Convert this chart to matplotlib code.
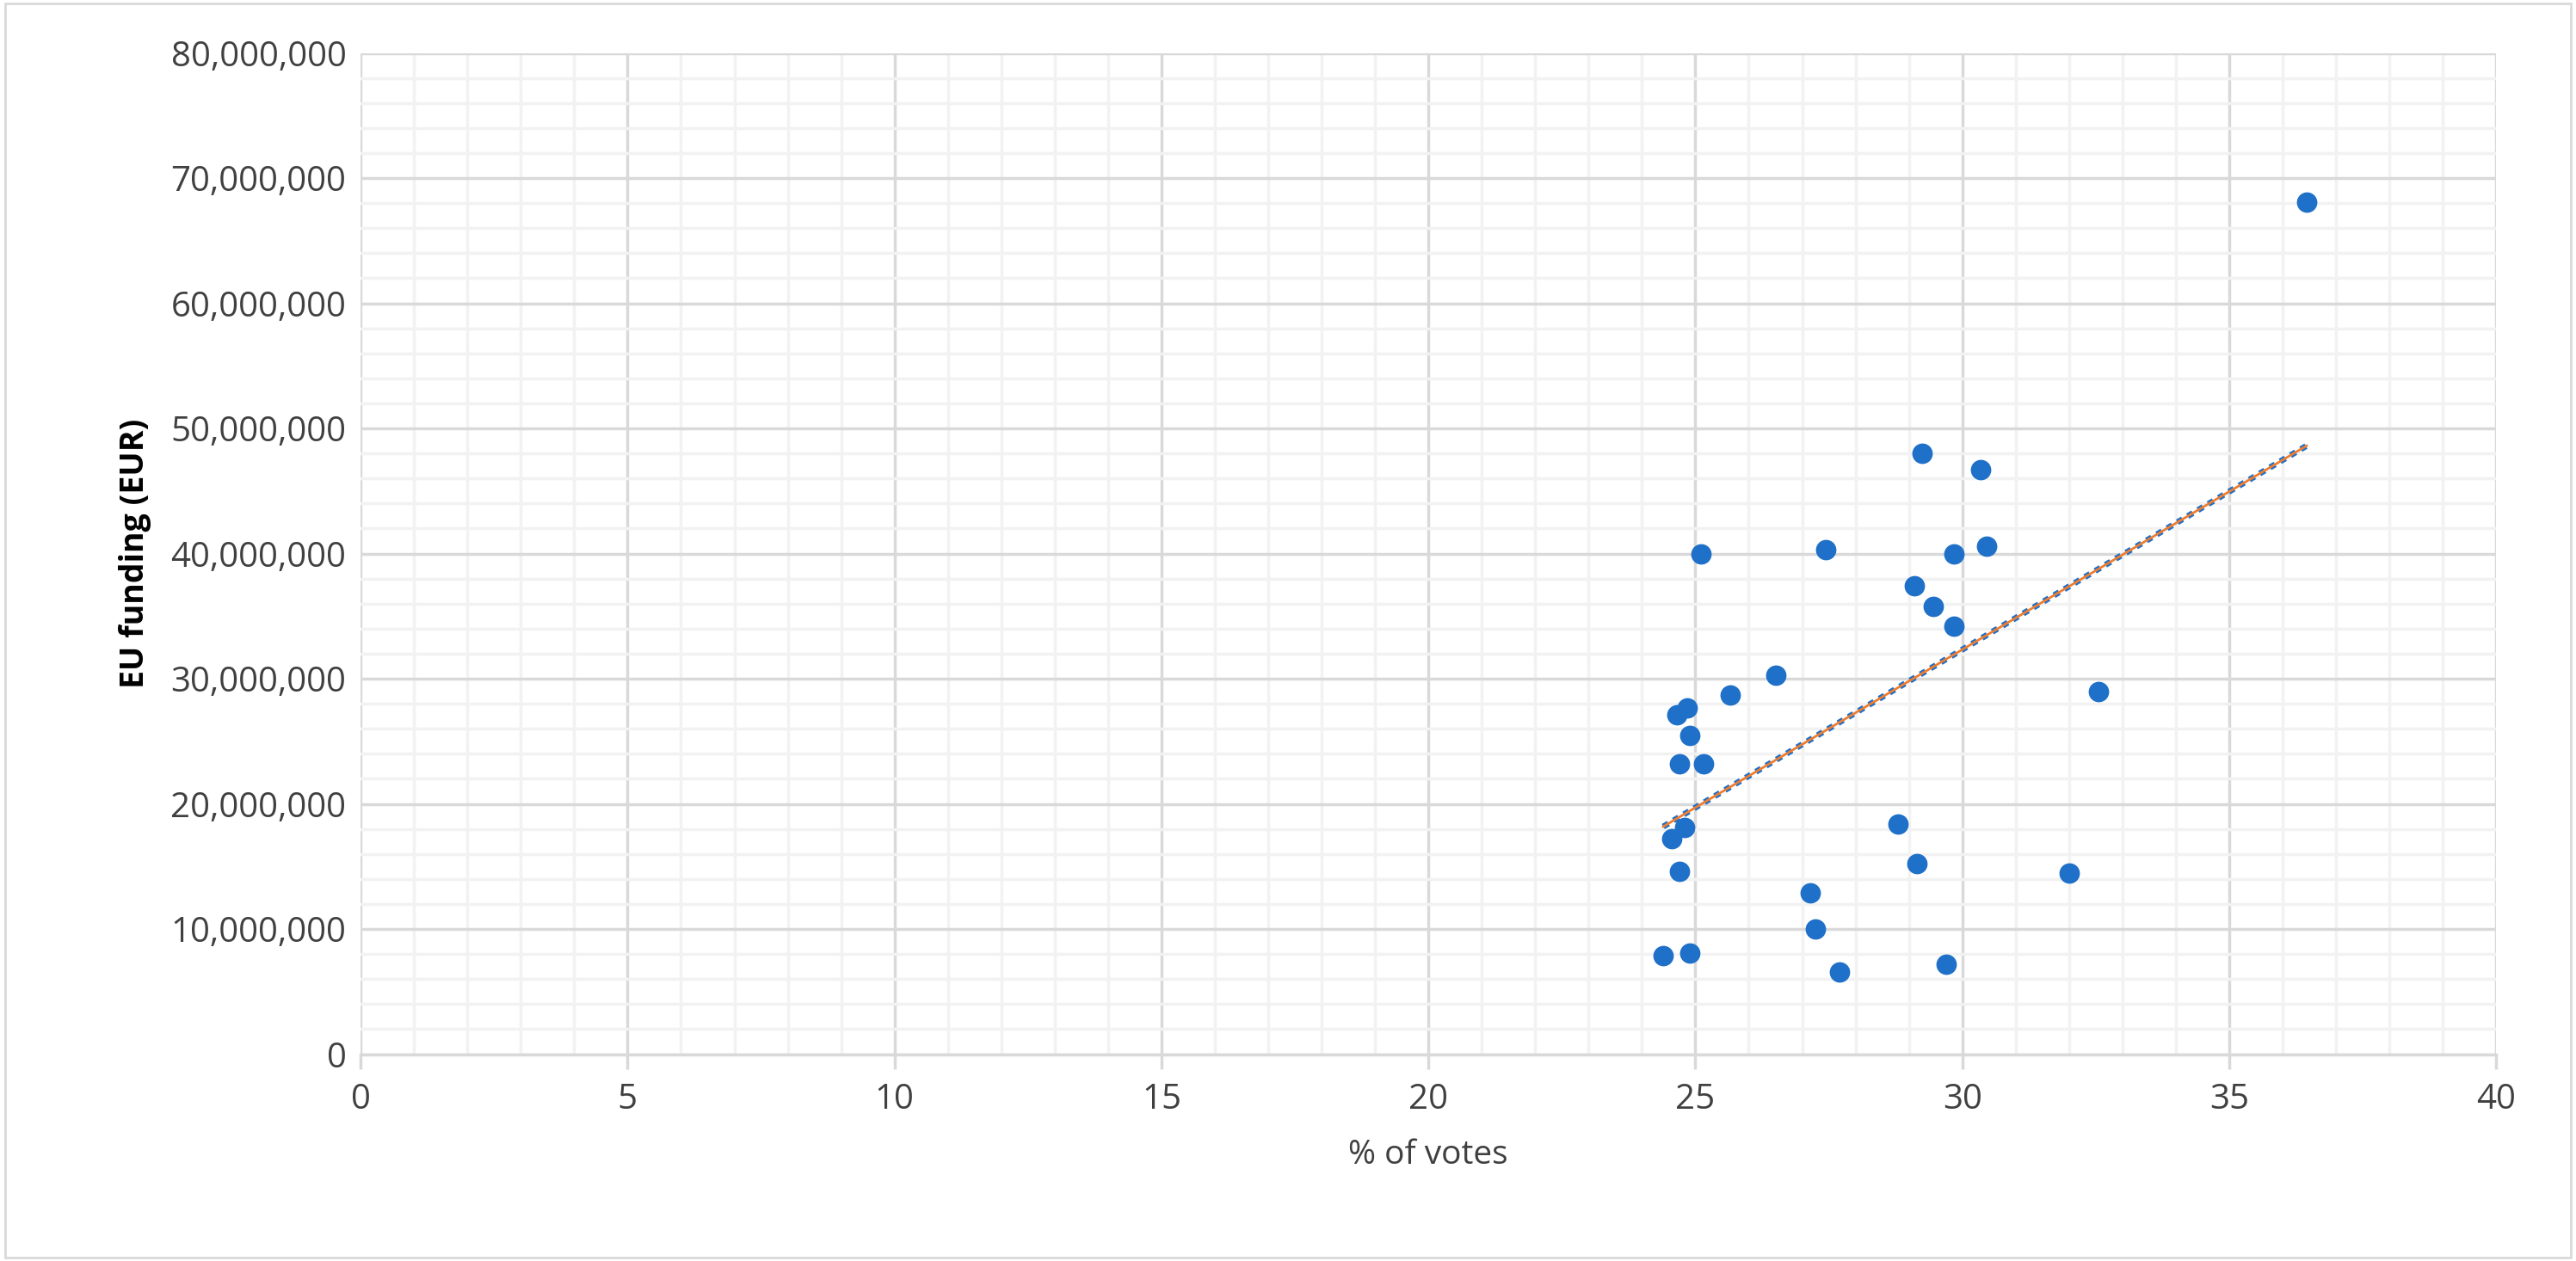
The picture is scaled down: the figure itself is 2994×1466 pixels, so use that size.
import matplotlib
matplotlib.use("Agg")
import matplotlib.pyplot as plt
import numpy as np
from matplotlib.ticker import FuncFormatter, MultipleLocator
from matplotlib.patches import Rectangle

votes = [36.45, 29.25, 30.35, 25.1, 27.45, 29.85, 30.45, 29.1, 29.45, 29.85, 26.5, 25.65,
         24.85, 24.65, 24.9, 24.7, 25.15, 32.55, 24.8, 24.55, 24.7, 28.8, 29.15, 32.0,
         27.15, 27.25, 27.7, 29.7, 24.4, 24.9]
funding = [68.1, 48.0, 46.7, 40.0, 40.3, 40.0, 40.6, 37.4, 35.8, 34.2, 30.3, 28.7,
           27.7, 27.1, 25.5, 23.2, 23.2, 29.0, 18.1, 17.2, 14.6, 18.4, 15.2, 14.5,
           12.9, 10.0, 6.6, 7.2, 7.9, 8.1]
funding = [v * 1e6 for v in funding]

plt.rcParams['font.family'] = ['Open Sans', 'DejaVu Sans']
fig = plt.figure(figsize=(29.94, 14.66), dpi=100)
ax = fig.add_axes([0.140, 0.164, 0.829, 0.794])
fig.add_artist(Rectangle((0.002, 0.003), 0.996, 0.994, transform=fig.transFigure,
                         fill=False, edgecolor='#d9d9d9', lw=2))

ax.set_xlim(0, 40)
ax.set_ylim(0, 80e6)
ax.xaxis.set_major_locator(MultipleLocator(5))
ax.xaxis.set_minor_locator(MultipleLocator(1))
ax.yaxis.set_major_locator(MultipleLocator(10e6))
ax.yaxis.set_minor_locator(MultipleLocator(2e6))
ax.yaxis.set_major_formatter(FuncFormatter(lambda v, p: f"{int(v):,}"))
ax.grid(which='major', color='#d9d9d9', lw=2.5)
ax.grid(which='minor', color='#f2f2f2', lw=2.5)
ax.set_axisbelow(True)
for s in ['top', 'right', 'left']:
    ax.spines[s].set_visible(False)
ax.spines['bottom'].set_color('#d9d9d9')
ax.spines['bottom'].set_linewidth(2.5)
ax.tick_params(which='both', length=0, labelsize=29, colors='#404040', pad=12)
ax.tick_params(axis='x', which='major', length=12, color='#d9d9d9', width=2.5)

ax.scatter(votes, funding, s=260, color='#1f70c8', zorder=3)
x = np.array(votes)
m, b = np.polyfit(x, np.array(funding), 1)
xs = np.array([x.min(), x.max()])
ax.plot(xs, m * xs + b, color='#1f70c8', lw=5, ls=(0, (1, 1)), zorder=4)
ax.plot(xs, m * xs + b, color='#ed7d31', lw=2, zorder=5)

ax.set_xlabel('% of votes', fontsize=28, color='#404040', labelpad=18)
ax.set_ylabel('EU funding (EUR)', fontsize=27, fontweight='bold', color='black', labelpad=16)
fig.savefig('out.png', dpi=100)
